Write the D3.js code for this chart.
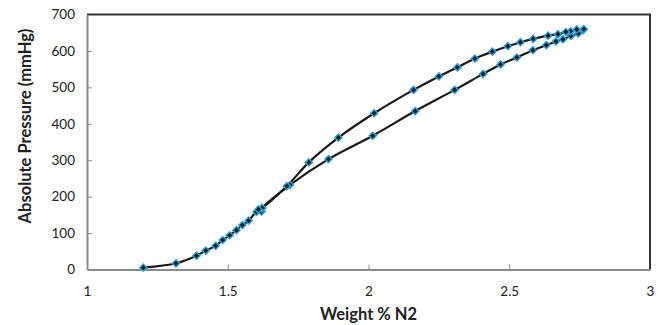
<!DOCTYPE html>
<html>
<head>
<meta charset="utf-8">
<script src="https://cdn.jsdelivr.net/npm/d3@7"></script>
<style>
  html, body { margin: 0; padding: 0; background: #fff; }
  svg { display: block; font-family: Lato, "Open Sans", sans-serif; }
</style>
</head>
<body>
<svg id="chart" width="666" height="325"></svg>
<script>
// Rising branch: starts at the origin region and follows the lower curve up
const upX = [1.200, 1.316, 1.389, 1.422, 1.457, 1.482, 1.507, 1.531, 1.552, 1.574, 1.602, 1.620, 1.622, 1.721,
             1.858, 2.015, 2.166, 2.306, 2.407, 2.469, 2.527, 2.584, 2.632, 2.666, 2.691, 2.719, 2.745, 2.762];
const upY = [5, 17, 38, 52, 65, 81, 94, 108, 122, 134, 158, 159, 168, 232,
             303, 367, 435, 493, 537, 563, 582, 602, 616, 626, 632, 641, 648, 657];

// Returning branch: from the top back down along the upper curve
const downX = [2.765, 2.740, 2.718, 2.701, 2.673, 2.638, 2.585, 2.540, 2.495, 2.440, 2.378, 2.316, 2.250,
               2.160, 2.020, 1.893, 1.788, 1.710, 1.622, 1.609];
const downY = [660, 659, 654, 652, 646, 642, 633, 624, 613, 598, 579, 555, 530,
               493, 429, 362, 294, 229, 169, 165];

const xTicks = [1, 1.5, 2, 2.5, 3];
const yTicks = [0, 100, 200, 300, 400, 500, 600, 700];
const xTitle = "Weight % N2";
const yTitle = "Absolute Pressure (mmHg)";

const svg = d3.select("#chart");
const plotL = 87, plotR = 650, plotT = 14.5, plotB = 269.5;

const x = d3.scaleLinear().domain([1, 3]).range([plotL, plotR]);
const y = d3.scaleLinear().domain([0, 700]).range([plotB, plotT]);

// plot frame: dark top/right edges
svg.append("path")
  .attr("d", `M${plotL},${plotT}H${plotR}V${plotB}`)
  .attr("fill", "none").attr("stroke", "#333").attr("stroke-width", 2);

// axes with inward ticks
const xAxis = svg.append("g").attr("transform", `translate(0,${plotB})`)
  .call(d3.axisBottom(x).tickValues(xTicks).tickSize(-5).tickSizeOuter(0).tickPadding(17)
    .tickFormat(d3.format("")));
const yAxis = svg.append("g").attr("transform", `translate(${plotL},0)`)
  .call(d3.axisLeft(y).tickValues(yTicks).tickSize(-5).tickSizeOuter(0).tickPadding(12));

[xAxis, yAxis].forEach(g => {
  g.select(".domain").attr("stroke", "#8a8a8a").attr("stroke-width", 2);
  g.selectAll(".tick line").attr("stroke", "#8a8a8a").attr("stroke-width", 1);
  g.selectAll(".tick text").attr("fill", "#222").style("font-size", "13.5px")
    .style("font-family", "Lato, 'Open Sans', sans-serif");
});
xAxis.selectAll(".tick").filter(d => d === 1 || d === 3).select("line").remove();
yAxis.selectAll(".tick").filter(d => d === 0 || d === 700).select("line").remove();

// axis titles
svg.append("text")
  .attr("x", (plotL + plotR) / 2).attr("y", 320)
  .attr("text-anchor", "middle")
  .style("font-size", "16.5px").style("font-weight", "bold").attr("fill", "#222")
  .text(xTitle);
svg.append("text")
  .attr("transform", `translate(31,126) rotate(-90)`)
  .attr("text-anchor", "middle")
  .style("font-size", "16.5px").style("font-weight", "bold").attr("fill", "#222")
  .text(yTitle);

const line = d3.line().x(d => x(d[0])).y(d => y(d[1])).curve(d3.curveCatmullRom.alpha(0.5));

const series = [d3.zip(upX, upY), d3.zip(downX, downY)];

svg.append("g").selectAll("path").data(series).join("path")
  .attr("d", line)
  .attr("fill", "none").attr("stroke", "#1a1a1a").attr("stroke-width", 2.2);

// square diamonds: a square turned 45 degrees
const marker = d3.symbol().type(d3.symbolSquare).size(26);
svg.append("g").selectAll("g").data(series).join("g")
  .selectAll("path").data(d => d).join("path")
  .attr("transform", d => `translate(${x(d[0])},${y(d[1])}) rotate(45)`)
  .attr("d", marker)
  .attr("fill", "#1b1b1b").attr("stroke", "#2aa3dc").attr("stroke-width", 1.4);
</script>
</body>
</html>
